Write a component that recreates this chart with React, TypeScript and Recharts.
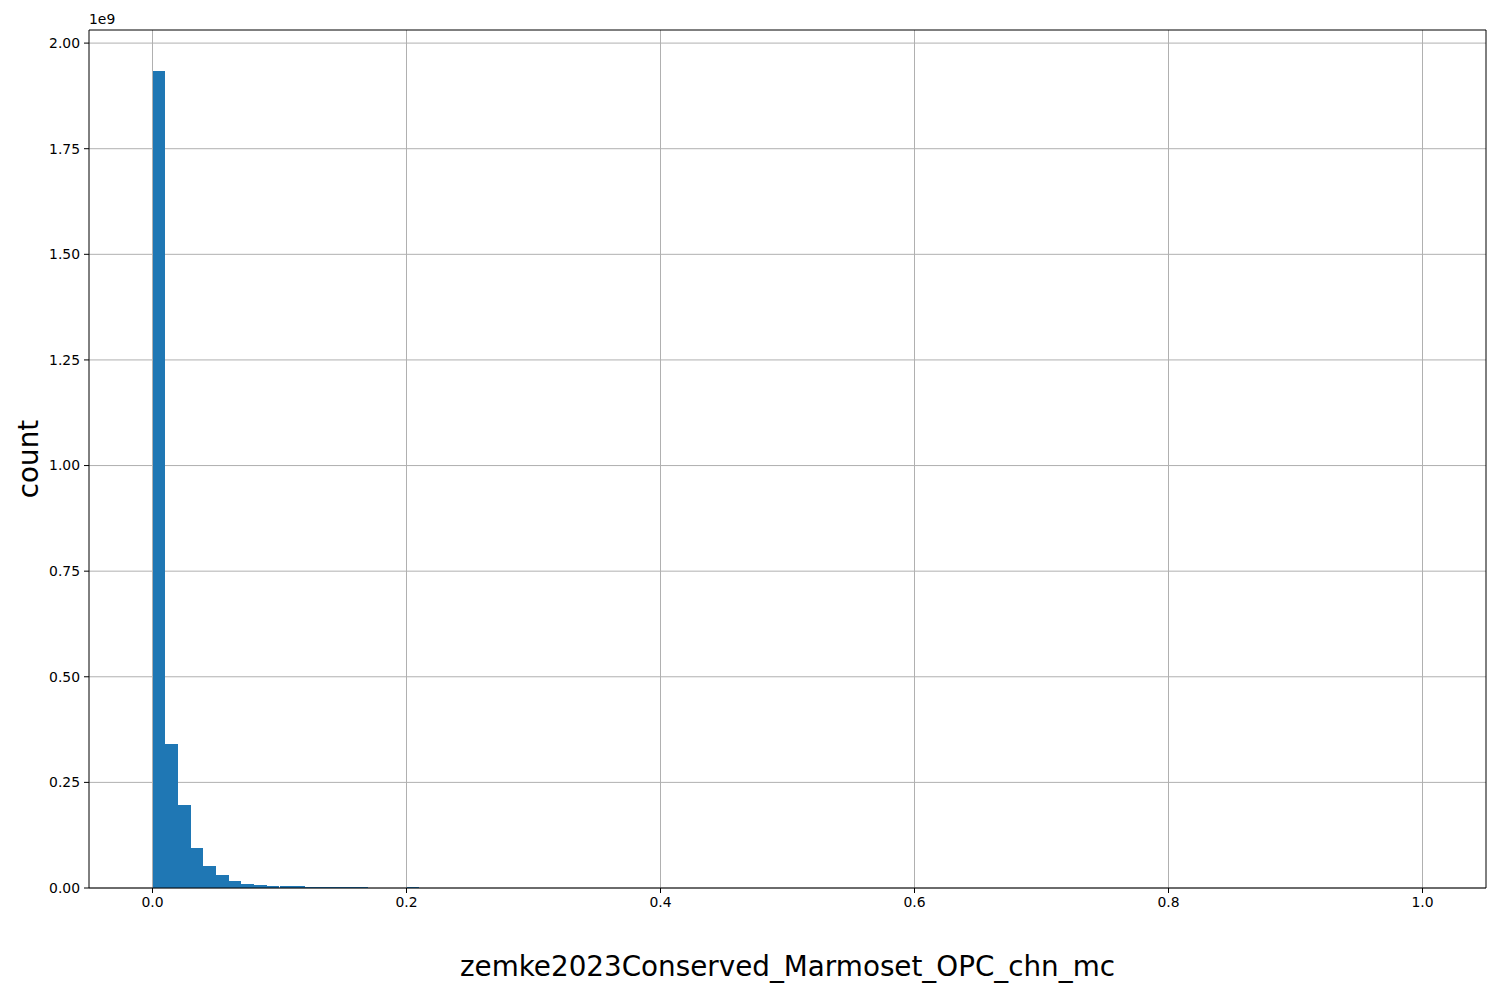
import React from 'react';
import {
  BarChart,
  Bar,
  XAxis,
  YAxis,
  CartesianGrid,
  Label,
  ReferenceLine,
} from 'recharts';

// histogram bins (left edges, width 0.01) and their counts
const binLeft = [
  0, 0.01, 0.02, 0.03, 0.04, 0.05, 0.06, 0.07, 0.08, 0.09, 0.1, 0.11, 0.12,
  0.13, 0.14, 0.15, 0.16, 0.17, 0.18, 0.19, 0.2,
];
const counts = [
  1.934e9, 0.341e9, 0.196e9, 0.095e9, 0.053e9, 0.031e9, 0.0166e9, 0.0104e9,
  0.0075e9, 0.0042e9, 0.0041e9, 0.004e9, 0.0024e9, 0.0023e9, 0.0023e9,
  0.0022e9, 0.0022e9, 0, 0, 0, 0.0024e9,
];
const xTicks = [0, 0.2, 0.4, 0.6, 0.8, 1.0];
const yTicks = [0, 0.25e9, 0.5e9, 0.75e9, 1e9, 1.25e9, 1.5e9, 1.75e9, 2e9];

const xDomain = [-0.05, 1.05];
const yDomain = [0, 2.031e9];
const binWidth = 0.01;
const data = binLeft.map((b, i) => ({ x: b + binWidth / 2, count: counts[i] }));

const font = 'DejaVu Sans, sans-serif';
const tickStyle = { fontSize: 13.9, fill: '#000', fontFamily: font };

export default function App() {
  return (
    <div style={{ position: 'absolute', left: 0, top: 0, background: '#fff' }}>
      <BarChart
        width={1500}
        height={1000}
        data={data}
        margin={{ top: 30, right: 14, left: 0, bottom: 0 }}
      >
        <CartesianGrid stroke="#b0b0b0" strokeWidth={1} horizontalValues={yTicks} verticalValues={xTicks} />
        <XAxis
          dataKey="x"
          type="number"
          domain={xDomain}
          ticks={xTicks}
          tickFormatter={(v: number) => v.toFixed(1)}
          height={112}
          tick={tickStyle}
          tickSize={5}
          tickMargin={4}
          stroke="#000"
          interval={0}
        >
          <Label
            content={(props: any) => {
              const vb = props.viewBox;
              return (
                <text
                  x={vb.x + vb.width / 2}
                  y={vb.y + 78}
                  textAnchor="middle"
                  dominantBaseline="central"
                  fontSize={27.8}
                  fontFamily={font}
                  fill="#000"
                >
                  zemke2023Conserved_Marmoset_OPC_chn_mc
                </text>
              );
            }}
          />
        </XAxis>
        <YAxis
          type="number"
          domain={yDomain}
          ticks={yTicks}
          tickFormatter={(v: number) => (v / 1e9).toFixed(2)}
          width={89}
          tick={tickStyle}
          tickSize={5}
          tickMargin={4}
          stroke="#000"
          interval={0}
        >
          <Label
            content={(props: any) => {
              const vb = props.viewBox;
              const cx = vb.x + 28;
              const cy = vb.y + vb.height / 2;
              return (
                <text
                  transform={`translate(${cx},${cy}) rotate(-90)`}
                  textAnchor="middle"
                  dominantBaseline="central"
                  fontSize={27.8}
                  fontFamily={font}
                  fill="#000"
                >
                  count
                </text>
              );
            }}
          />
          <Label
            content={(props: any) => {
              const vb = props.viewBox;
              return (
                <text
                  x={vb.x + vb.width}
                  y={vb.y - 6}
                  textAnchor="start"
                  fontSize={13.9}
                  fontFamily={font}
                  fill="#000"
                >
                  1e9
                </text>
              );
            }}
          />
        </YAxis>
        <Bar
          dataKey="count"
          fill="#1f77b4"
          barSize={12.69}
          shapeRendering="crispEdges"
          isAnimationActive={false}
        />
        {/* top and right spines */}
        <ReferenceLine y={yDomain[1]} stroke="#000" strokeWidth={1} />
        <ReferenceLine x={xDomain[1]} stroke="#000" strokeWidth={1} />
      </BarChart>
    </div>
  );
}
